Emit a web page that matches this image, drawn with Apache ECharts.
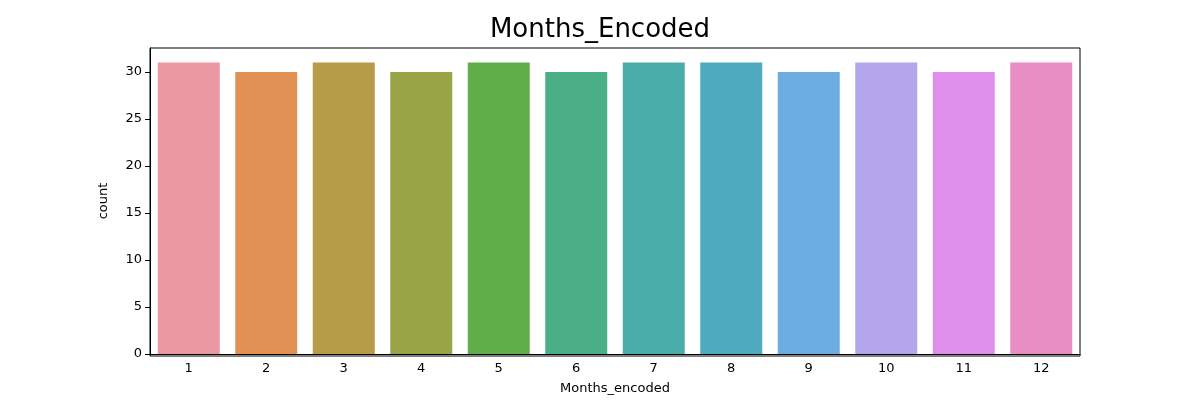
<!DOCTYPE html>
<html>
<head>
<meta charset="utf-8">
<script src="https://cdn.jsdelivr.net/npm/echarts@6/dist/echarts.min.js"></script>
<style>html,body{margin:0;background:#fff}#chart{width:1200px;height:400px}</style>
</head>
<body>
<div id="chart"></div>
<script>
// months and their day counts
var months = ['1', '2', '3', '4', '5', '6', '7', '8', '9', '10', '11', '12'];
var counts = [31, 30, 31, 30, 31, 30, 31, 31, 30, 31, 30, 31];
var colors = ['#eb98a3', '#e19154', '#b79c48', '#99a446', '#5fae48', '#4aaf86',
              '#4badaa', '#4eaabd', '#6badE0', '#b4a6ec', '#de8feb', '#e98ec4'];

var chart = echarts.init(document.getElementById('chart'));
var axisStyle = { lineStyle: { color: '#000', width: 1 } };
chart.setOption({
    animation: false,
    title: {
        text: 'Months_Encoded', left: 'center', top: 12,
        textStyle: { fontFamily: 'DejaVu Sans', fontSize: 26, fontWeight: 'normal', color: '#000' }
    },
    grid: { left: 150, right: 120, top: 48, bottom: 44 },
    xAxis: {
        type: 'category', data: months,
        name: 'Months_encoded', nameLocation: 'middle', nameGap: 28,
        nameTextStyle: { fontFamily: 'DejaVu Sans', fontSize: 13, color: '#000' },
        axisLine: axisStyle,
        axisTick: { alignWithLabel: true, lineStyle: { color: '#000' } },
        axisLabel: { fontFamily: 'DejaVu Sans', fontSize: 13, color: '#000' },
        splitLine: { show: false }
    },
    yAxis: {
        type: 'value', min: 0, max: 32.55, interval: 5,
        name: 'count', nameLocation: 'middle', nameGap: 40,
        nameTextStyle: { fontFamily: 'DejaVu Sans', fontSize: 13, color: '#000' },
        axisLine: { show: true, lineStyle: { color: '#000' } },
        axisTick: { show: true, lineStyle: { color: '#000' } },
        axisLabel: { fontFamily: 'DejaVu Sans', fontSize: 13, color: '#000', showMaxLabel: false },
        splitLine: { show: false }
    },
    series: [{
        type: 'bar',
        barCategoryGap: '20%',
        data: counts.map(function (v, i) {
            return { value: v, itemStyle: { color: colors[i] } };
        })
    }],
    graphic: [{
        type: 'rect', shape: { x: 150, y: 48, width: 930, height: 308 },
        style: { fill: 'none', stroke: '#000', lineWidth: 1 }, silent: true
    }]
});
</script>
</body>
</html>
